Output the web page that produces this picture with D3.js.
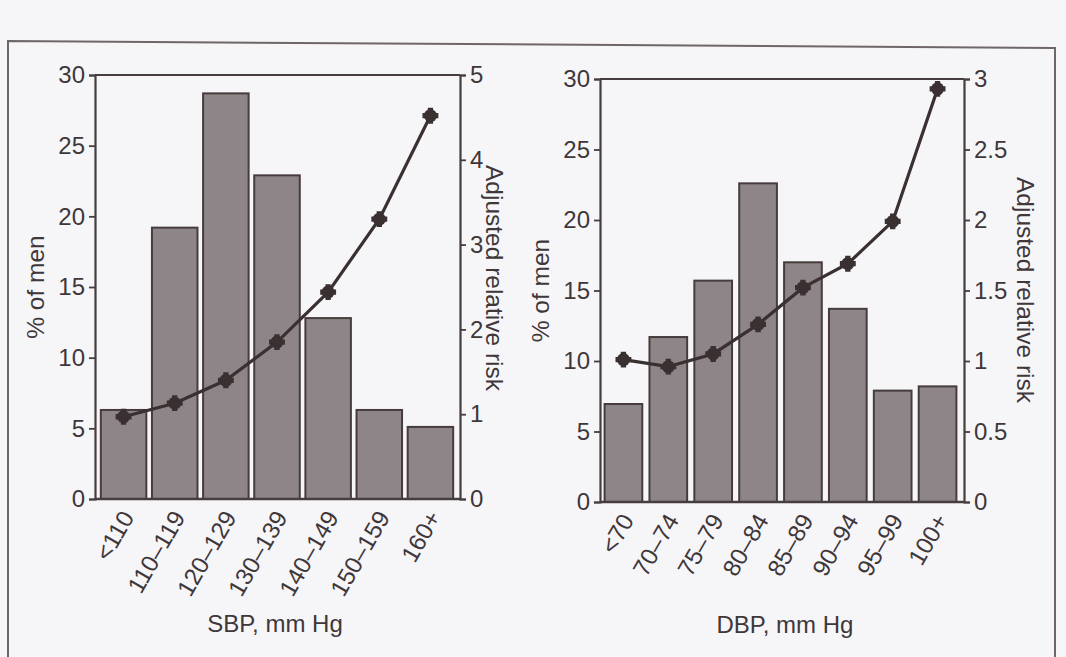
<!DOCTYPE html>
<html>
<head>
<meta charset="utf-8">
<script src="https://cdn.jsdelivr.net/npm/d3@7"></script>
<style>
  html, body { margin: 0; padding: 0; background: #f6f6f9; }
  svg { display: block; }
  text { font-family: "Liberation Sans", Arial, Helvetica, sans-serif; fill: #3f3739; }
</style>
</head>
<body>
<svg id="chart" width="1066" height="657"></svg>
<script>
// ---------- data ----------
const sbpCategories = ["<110", "110\u2013119", "120\u2013129", "130\u2013139", "140\u2013149", "150\u2013159", "160+"];
const sbpPercentMen = [6.3, 19.2, 28.7, 22.9, 12.8, 6.3, 5.1];
const sbpRelativeRisk = [0.97, 1.13, 1.4, 1.85, 2.44, 3.3, 4.52];

const dbpCategories = ["<70", "70\u201374", "75\u201379", "80\u201384", "85\u201389", "90\u201394", "95\u201399", "100+"];
const dbpPercentMen = [6.95, 11.7, 15.7, 22.6, 17.0, 13.7, 7.9, 8.2];
const dbpRelativeRisk = [1.01, 0.96, 1.05, 1.26, 1.52, 1.69, 1.99, 2.93];

const percentTicks = [0, 5, 10, 15, 20, 25, 30];
const sbpRiskTicks = [0, 1, 2, 3, 4, 5];
const dbpRiskTicks = [0, 0.5, 1, 1.5, 2, 2.5, 3];

const sbpTitle = "SBP, mm Hg";
const dbpTitle = "DBP, mm Hg";
const leftTitle = "% of men";
const rightTitle = "Adjusted relative risk";

// ---------- drawing ----------
const svg = d3.select("#chart");
const ink = "#463d3f";

// outer frame of the figure (slightly tilted scan)
svg.append("path")
  .attr("d", "M8,670 L8,41 L1055,48 L1055,670")
  .attr("fill", "none")
  .attr("stroke", "#6e6667")
  .attr("stroke-width", 2);

function panel(cfg) {
  const g = svg.append("g");
  const x = d3.scaleBand().domain(cfg.categories).range(cfg.bandRange)
    .paddingInner(cfg.pad).paddingOuter(cfg.pad / 2);
  const yL = d3.scaleLinear().domain([0, 30]).range([cfg.bottom, cfg.top]);
  const yR = d3.scaleLinear().domain([0, cfg.riskMax]).range([cfg.bottom, cfg.top]);

  // bars
  g.selectAll("rect.bar").data(cfg.percent).join("rect")
    .attr("class", "bar")
    .attr("x", (d, i) => x(cfg.categories[i]))
    .attr("width", x.bandwidth())
    .attr("y", d => yL(d))
    .attr("height", d => yL(0) - yL(d))
    .attr("fill", "#8d8587")
    .attr("stroke", "#463b3d")
    .attr("stroke-width", 2);

  // top frame line
  g.append("line")
    .attr("x1", cfg.axisLeft).attr("x2", cfg.axisRight)
    .attr("y1", cfg.top).attr("y2", cfg.top)
    .attr("stroke", ink).attr("stroke-width", 2.2);
  // baseline
  g.append("line")
    .attr("x1", cfg.axisLeft).attr("x2", cfg.axisRight)
    .attr("y1", cfg.bottom).attr("y2", cfg.bottom)
    .attr("stroke", ink).attr("stroke-width", 2.4);

  // left axis
  const la = g.append("g").attr("transform", `translate(${cfg.axisLeft},0)`)
    .call(d3.axisLeft(yL).tickValues(percentTicks).tickSize(6).tickPadding(4).tickFormat(d3.format("d")));
  la.select(".domain").attr("stroke", ink).attr("stroke-width", 2.2);
  la.selectAll(".tick line").attr("stroke", ink).attr("stroke-width", 1.8);
  la.selectAll(".tick text").style("font-size", "24px").attr("fill", "#3f3739");

  // right axis
  const ra = g.append("g").attr("transform", `translate(${cfg.axisRight},0)`)
    .call(d3.axisRight(yR).tickValues(cfg.riskTicks).tickSize(6).tickPadding(4).tickFormat(d => String(d)));
  ra.select(".domain").attr("stroke", ink).attr("stroke-width", 2.2);
  ra.selectAll(".tick line").attr("stroke", ink).attr("stroke-width", 1.8);
  ra.selectAll(".tick text").style("font-size", "24px").attr("fill", "#3f3739");

  // x tick labels (rotated)
  g.selectAll("text.xl").data(cfg.categories).join("text")
    .attr("class", "xl")
    .attr("transform", d => `translate(${x(d) + x.bandwidth() / 2 + 4},${cfg.bottom + 14}) rotate(-60)`)
    .attr("text-anchor", "end")
    .attr("dy", "0.35em")
    .style("font-size", "24px")
    .text(d => d);

  // x title
  g.append("text")
    .attr("x", cfg.xTitleX).attr("y", cfg.xTitleY)
    .attr("text-anchor", "middle")
    .style("font-size", "24px")
    .text(cfg.xTitle);

  // left title
  g.append("text")
    .attr("transform", `translate(${cfg.lTitleX},${(cfg.top + cfg.bottom) / 2}) rotate(-90)`)
    .attr("text-anchor", "middle")
    .style("font-size", "24.5px")
    .text(leftTitle);

  // right title
  g.append("text")
    .attr("transform", `translate(${cfg.rTitleX},${cfg.rTitleY}) rotate(90)`)
    .attr("text-anchor", "middle")
    .style("font-size", "24.5px")
    .text(rightTitle);

  // risk line
  const cx = (d, i) => x(cfg.categories[i]) + x.bandwidth() / 2;
  const line = d3.line().x(cx).y(d => yR(d));
  g.append("path")
    .datum(cfg.risk)
    .attr("d", line)
    .attr("fill", "none")
    .attr("stroke", "#3a3032")
    .attr("stroke-width", 3.2);

  const mk = g.selectAll("g.mk").data(cfg.risk).join("g")
    .attr("class", "mk")
    .attr("transform", (d, i) => `translate(${cx(d, i)},${yR(d)})`);
  mk.append("circle").attr("r", 6.5).attr("fill", "#3a3032");
  mk.append("path").attr("d", d3.symbol(d3.symbolCross, 140)()).attr("fill", "#3a3032");
}

panel({
  categories: sbpCategories, percent: sbpPercentMen, risk: sbpRelativeRisk,
  riskMax: 5, riskTicks: sbpRiskTicks,
  bandRange: [98, 456], pad: 0.11,
  axisLeft: 95, axisRight: 460, top: 75, bottom: 499,
  xTitle: sbpTitle, xTitleX: 275, xTitleY: 632,
  lTitleX: 44, rTitleX: 486, rTitleY: 278
});

panel({
  categories: dbpCategories, percent: dbpPercentMen, risk: dbpRelativeRisk,
  riskMax: 3, riskTicks: dbpRiskTicks,
  bandRange: [601, 960], pad: 0.16,
  axisLeft: 600, axisRight: 964, top: 79, bottom: 502,
  xTitle: dbpTitle, xTitleX: 785, xTitleY: 633,
  lTitleX: 549, rTitleX: 1017, rTitleY: 290
});
</script>
</body>
</html>
